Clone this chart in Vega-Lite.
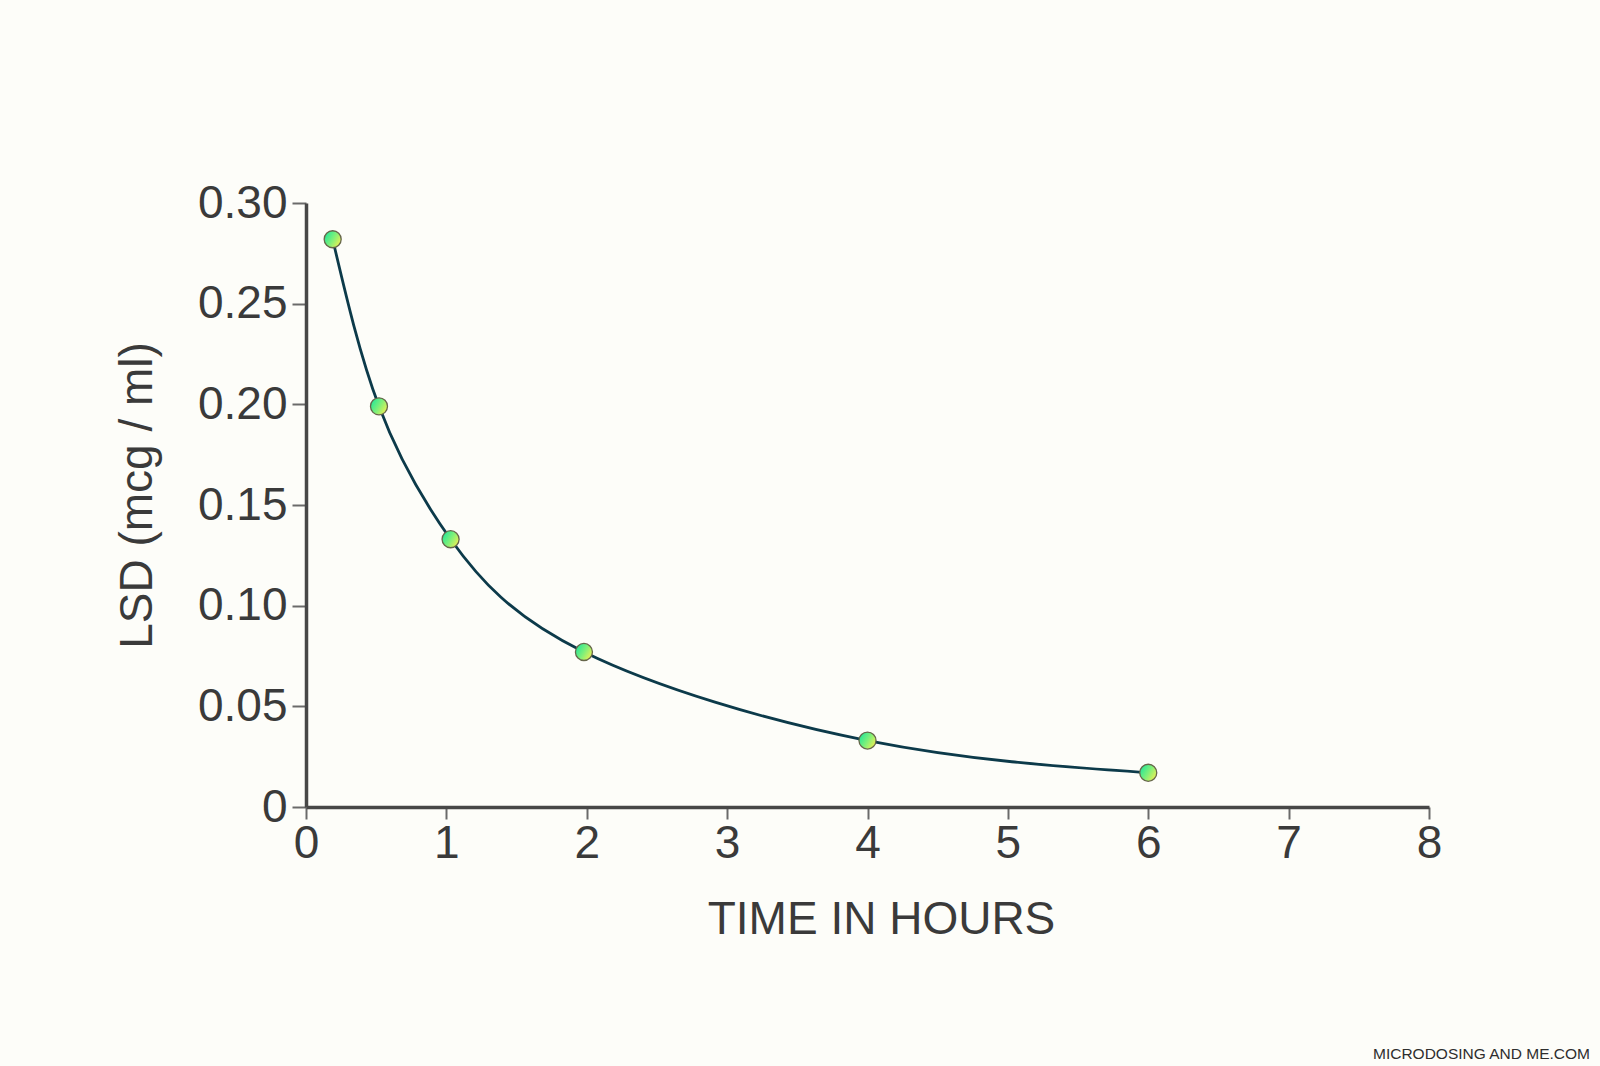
{
  "$schema": "https://vega.github.io/schema/vega-lite/v6.json",
  "width": 1123,
  "height": 604,
  "autosize": "none",
  "padding": {"left": 306, "top": 203, "right": 171, "bottom": 259},
  "background": "#fdfdf9",
  "title": {
    "text": "MICRODOSING AND ME.COM",
    "orient": "bottom",
    "anchor": "end",
    "frame": "group",
    "dx": 161,
    "offset": 105,
    "font": "Liberation Sans",
    "fontSize": 15.5,
    "fontWeight": "normal",
    "color": "#2e2e2e"
  },
  "data": {
    "values": [
      {"hours": 0.19, "lsd": 0.282},
      {"hours": 0.52, "lsd": 0.199},
      {"hours": 1.03, "lsd": 0.133},
      {"hours": 1.98, "lsd": 0.077},
      {"hours": 4.0, "lsd": 0.033},
      {"hours": 6.0, "lsd": 0.017}
    ]
  },
  "encoding": {
    "x": {
      "field": "hours",
      "type": "quantitative",
      "scale": {"domain": [0, 8], "nice": false},
      "axis": {
        "title": "TIME IN HOURS",
        "values": [0, 1, 2, 3, 4, 5, 6, 7, 8],
        "labelFlush": false,
        "tickSize": 12,
        "labelPadding": 2,
        "titleX": 575,
        "titleY": 126,
        "titleBaseline": "alphabetic"
      }
    },
    "y": {
      "field": "lsd",
      "type": "quantitative",
      "scale": {"domain": [0, 0.3], "nice": false},
      "axis": {
        "title": "LSD (mcg / ml)",
        "values": [0, 0.05, 0.1, 0.15, 0.2, 0.25, 0.3],
        "labelExpr": "datum.value == 0 ? '0' : format(datum.value, '.2f')",
        "labelFlush": false,
        "tickSize": 14,
        "labelPadding": 5,
        "titleAngle": -90,
        "titleX": -155,
        "titleY": 292,
        "titleAlign": "center",
        "titleBaseline": "alphabetic"
      }
    }
  },
  "layer": [
    {
      "mark": {
        "type": "line",
        "interpolate": "natural",
        "color": "#0c3a4a",
        "strokeWidth": 2.8
      }
    },
    {
      "mark": {
        "type": "point",
        "filled": true,
        "size": 290,
        "fill": {
          "gradient": "linear",
          "x1": 0, "y1": 0.2, "x2": 1, "y2": 0.8,
          "stops": [
            {"offset": 0, "color": "#1ee69a"},
            {"offset": 0.5, "color": "#7ef07a"},
            {"offset": 1, "color": "#f6f050"}
          ]
        },
        "fillOpacity": 1,
        "stroke": "#66664a",
        "strokeWidth": 1.3,
        "strokeOpacity": 1
      }
    }
  ],
  "config": {
    "view": {"stroke": null},
    "axis": {
      "grid": false,
      "domainColor": "#474747",
      "domainWidth": 3.5,
      "tickColor": "#6a6a6a",
      "tickWidth": 2,
      "labelFont": "Liberation Sans",
      "labelFontSize": 46,
      "labelColor": "#3a3a3a",
      "titleFont": "Liberation Sans",
      "titleFontSize": 46,
      "titleFontWeight": "normal",
      "titleColor": "#3a3a3a"
    }
  }
}
